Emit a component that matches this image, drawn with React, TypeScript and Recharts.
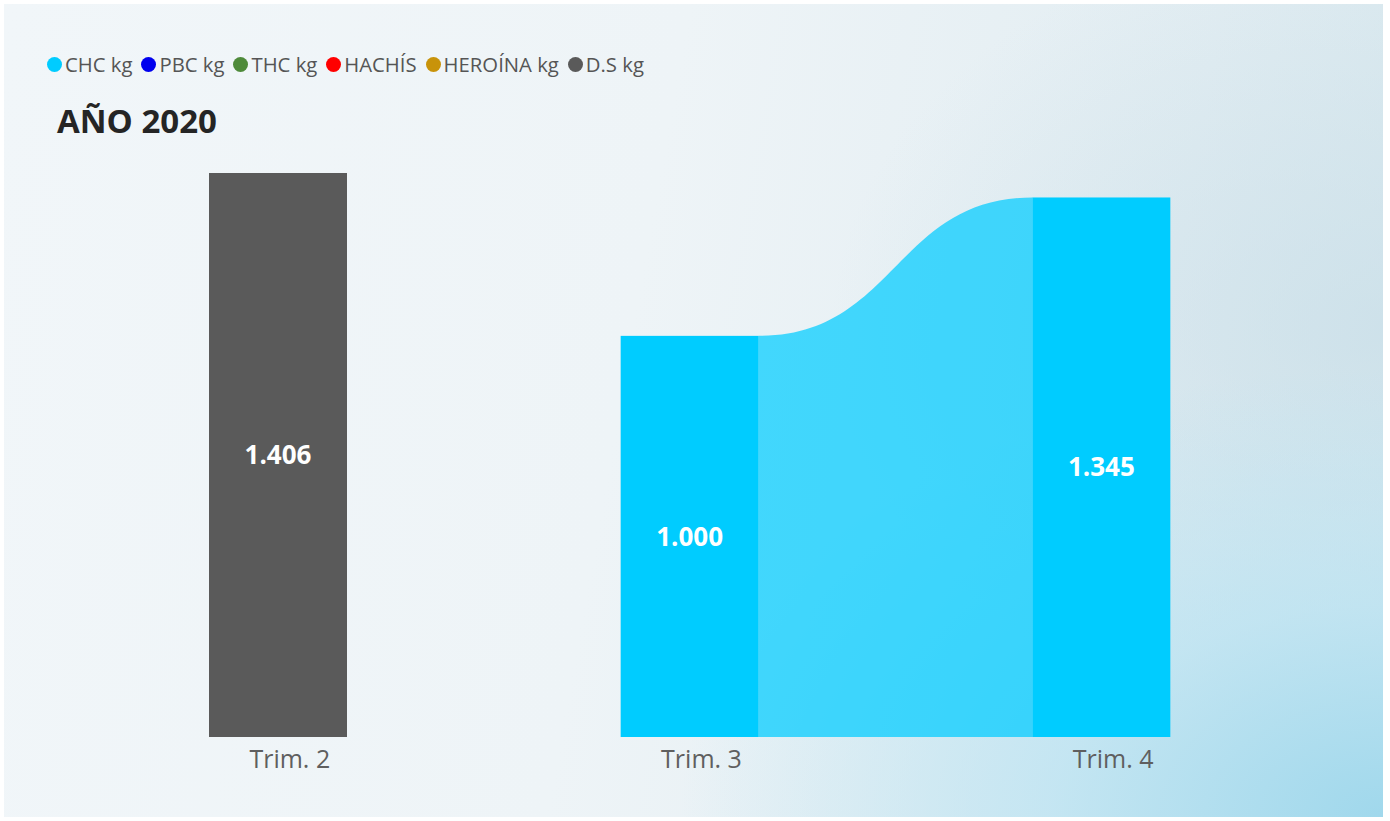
import React from 'react';
import { ComposedChart, Bar, XAxis, YAxis, LabelList } from 'recharts';

const categories = ['Trim. 2', 'Trim. 3', 'Trim. 4'];

const seriesNames = ['CHC kg', 'PBC kg', 'THC kg', 'HACHÍS', 'HEROÍNA kg', 'D.S kg'];
const seriesColors = ['#00CCFF', '#0000EE', '#4E8A3A', '#FF0000', '#C8930A', '#5A5A5A'];

const chcKg = [null, 1000, 1345];
const pbcKg = [null, null, null];
const thcKg = [null, null, null];
const hachis = [null, null, null];
const heroinaKg = [null, null, null];
const dsKg = [1406, null, null];

const seriesValues = [chcKg, pbcKg, thcKg, hachis, heroinaKg, dsKg];

const data = categories.map((cat, i) => {
  const row: Record<string, any> = { name: cat };
  seriesNames.forEach((s, j) => {
    row[s] = seriesValues[j][i];
  });
  return row;
});

const FONT = '"Open Sans", "Segoe UI", sans-serif';

const fmt = (v: any) =>
  v == null || v === 0 ? '' : Number(v).toLocaleString('de-DE');

// positions of drawn CHC bars, filled while the bars render (in index order)
const chcRects: Record<number, { x: number; y: number; width: number; height: number }> = {};

const ChcShape = (props: any) => {
  const { x, y, width, height, index, fill } = props;
  if (chcKg[index] == null || !height) return null;
  chcRects[index] = { x, y, width, height };
  const prev = chcRects[index - 1];
  let ribbon = null;
  if (prev && chcKg[index - 1] != null) {
    const base = y + height;
    const x0 = prev.x + prev.width;
    const y0 = prev.y;
    const x1 = x;
    const y1 = y;
    const xm = (x0 + x1) / 2;
    const d = `M${x0},${base} L${x0},${y0} C${xm},${y0} ${xm},${y1} ${x1},${y1} L${x1},${base} Z`;
    ribbon = <path d={d} fill={fill} fillOpacity={0.72} />;
  }
  return (
    <g>
      {ribbon}
      <rect x={x} y={y} width={width} height={height} fill={fill} />
    </g>
  );
};

const TrimTick = (props: any) => {
  const { x, y, payload } = props;
  return (
    <text
      x={x + 12}
      y={y}
      dy={23}
      textAnchor="middle"
      fill="#5F5F5F"
      fontSize={25}
      fontFamily={FONT}
    >
      {payload.value}
    </text>
  );
};

export default function App() {
  return (
    <div
      style={{
        position: 'fixed',
        top: 0,
        left: 0,
        width: 1390,
        height: 821,
        background: '#ffffff',
        fontFamily: FONT,
      }}
    >
      <div
        style={{
          position: 'absolute',
          left: 4,
          top: 4,
          width: 1379,
          height: 813,
          background:
            'radial-gradient(ellipse 60% 65% at 100% 100%, rgba(160,216,236,1) 0%, rgba(186,227,242,0.75) 40%, rgba(220,238,245,0) 85%), radial-gradient(ellipse 40% 50% at 100% 40%, rgba(200,222,232,0.7) 0%, rgba(220,234,240,0) 100%), linear-gradient(100deg, #F1F6F9 0%, #EEF4F7 45%, #E2EDF2 80%, #D8E8EE 100%)',
        }}
      />
      <div
        style={{
          position: 'absolute',
          left: 47,
          top: 50,
          display: 'flex',
          alignItems: 'center',
          fontSize: 20.3,
          color: '#555555',
          whiteSpace: 'nowrap',
        }}
      >
        {seriesNames.map((s, i) => (
          <div key={s} style={{ display: 'flex', alignItems: 'center', marginRight: 9 }}>
            <span
              style={{
                display: 'inline-block',
                width: 15,
                height: 15,
                borderRadius: 8,
                background: seriesColors[i],
                marginRight: 3,
              }}
            />
            <span>{s}</span>
          </div>
        ))}
      </div>
      <div
        style={{
          position: 'absolute',
          left: 57,
          top: 98,
          fontSize: 33,
          fontWeight: 700,
          color: '#252525',
        }}
      >
        AÑO 2020
      </div>
      <div style={{ position: 'absolute', left: 0, top: 0 }}>
        <ComposedChart
          width={1390}
          height={821}
          data={data}
          margin={{ top: 173, left: 72, right: 83, bottom: 54 }}
        >
          <XAxis
            dataKey="name"
            axisLine={false}
            tickLine={false}
            height={30}
            tick={<TrimTick />}
            interval={0}
          />
          <YAxis hide domain={[0, 'dataMax']} />
          {seriesNames.map((s, i) => (
            <Bar
              key={s}
              dataKey={s}
              stackId="a"
              fill={seriesColors[i]}
              barSize={138}
              isAnimationActive={false}
              shape={i === 0 ? <ChcShape /> : undefined}
            >
              <LabelList
                dataKey={s}
                position="center"
                formatter={fmt}
                fill="#ffffff"
                fontSize={26}
                fontWeight={700}
                fontFamily={FONT}
              />
            </Bar>
          ))}
        </ComposedChart>
      </div>
    </div>
  );
}
